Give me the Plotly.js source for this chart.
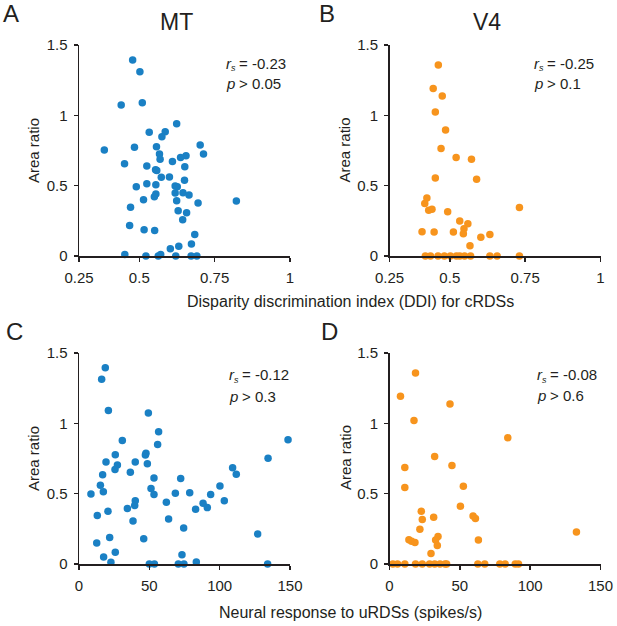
<!DOCTYPE html>
<html>
<head>
<meta charset="utf-8">
<script src="https://cdn.plot.ly/plotly-3.0.1.min.js"></script>
<style>html,body{margin:0;padding:0;background:#fff;}#chart{width:617px;height:626px;}</style>
</head>
<body>
<div id="chart"></div>
<script>
// ---- Data ----
// Panel A: MT, DDI vs area ratio
const mtDDI = [0.478,0.502,0.440,0.510,0.624,0.586,0.533,0.575,0.384,0.484,0.557,0.702,0.713,0.567,0.569,0.655,0.637,0.610,0.451,0.525,0.651,0.554,0.558,0.573,0.600,0.650,0.490,0.525,0.555,0.619,0.626,0.555,0.550,0.619,0.645,0.665,0.514,0.624,0.695,0.822,0.471,0.629,0.657,0.644,0.468,0.516,0.551,0.684,0.673,0.631,0.603,0.452,0.522,0.563,0.571,0.621,0.672,0.691];
const mtRatioA = [1.393,1.310,1.073,1.090,0.941,0.884,0.879,0.848,0.754,0.773,0.777,0.789,0.725,0.725,0.687,0.713,0.701,0.671,0.656,0.640,0.635,0.614,0.607,0.559,0.562,0.538,0.493,0.514,0.507,0.498,0.493,0.441,0.422,0.448,0.450,0.434,0.400,0.393,0.377,0.391,0.346,0.322,0.308,0.258,0.216,0.187,0.182,0.152,0.085,0.069,0.052,0.010,0,0,0.010,0,0,0];

// Panel B: V4, DDI vs area ratio
const v4DDI = [0.462,0.445,0.475,0.452,0.486,0.471,0.521,0.572,0.452,0.589,0.424,0.417,0.430,0.441,0.493,0.731,0.533,0.560,0.547,0.545,0.512,0.448,0.408,0.633,0.603,0.567,0.419,0.436,0.461,0.482,0.502,0.522,0.533,0.549,0.569,0.633,0.657,0.731];
const v4RatioB = [1.358,1.190,1.137,1.024,0.896,0.765,0.701,0.687,0.555,0.545,0.412,0.374,0.325,0.332,0.315,0.344,0.249,0.230,0.194,0.159,0.171,0.171,0.173,0.152,0.133,0.073,0,0,0,0,0,0,0,0,0,0,0,0];

// Panel C: MT, neural response vs area ratio
const mtResp = [18.7,16.1,20.9,49.3,56.6,30.8,55.9,25.8,47.2,47.6,19.2,40.0,48.6,27.3,25.6,16.8,36.5,53.3,72.3,109.2,111.8,134.4,148.6,15.2,51.2,100.2,8.5,17.3,53.3,68.5,78.7,93.6,40.0,39.6,62.1,103.3,88.2,91.2,82.9,13.0,20.6,34.4,38.4,63.7,74.4,127.0,21.8,46.0,12.6,17.5,25.8,73.2,22.7,83.4,50.0,53.6,70.6,74.6,134.1];
const mtRatioC = [1.396,1.313,1.092,1.073,0.940,0.878,0.850,0.776,0.774,0.788,0.726,0.726,0.712,0.703,0.672,0.634,0.653,0.612,0.608,0.684,0.638,0.752,0.883,0.560,0.536,0.555,0.498,0.513,0.494,0.503,0.506,0.494,0.449,0.415,0.439,0.449,0.432,0.401,0.389,0.344,0.375,0.394,0.306,0.320,0.256,0.214,0.188,0.180,0.150,0.050,0.083,0.066,0.012,0.014,0,0,0,0,0];

// Panel D: V4, neural response vs area ratio
const v4Resp = [18.5,7.8,43.0,17.4,84.1,32.1,10.9,44.4,10.9,52.5,50.4,22.6,23.3,31.4,59.4,61.1,21.6,34.5,32.8,34.0,13.8,15.7,18.1,63.2,132.9,29.5,2.4,5.7,10.9,18.5,23.3,28.5,32.1,35.9,39.5,40.6,62.8,67.7,78.4,82.2,89.4,91.7];
const v4RatioD = [1.358,1.192,1.137,1.021,0.897,0.764,0.686,0.700,0.544,0.553,0.411,0.375,0.316,0.332,0.342,0.323,0.247,0.195,0.171,0.131,0.173,0.161,0.152,0.171,0.228,0.074,0,0,0,0,0,0,0,0,0,0,0,0,0,0,0,0];

// Tick labels
const ddiTickVals = [0.3, 0.5, 0.75, 1];
const ddiTickText = ['0.25', '0.5', '0.75', '1'];
const respTickVals = [0, 50, 100, 150];
const respTickText = ['0', '50', '100', '150'];
const ratioTickVals = [0, 0.5, 1, 1.5];
const ratioTickText = ['0', '0.5', '1', '1.5'];

const panelTitles = ['MT', 'V4'];
const panelLetters = ['A', 'B', 'C', 'D'];
const statsR = ['-0.23', '-0.25', '-0.12', '-0.08'];
const statsP = ['0.05', '0.1', '0.3', '0.6'];

// ---- Styling ----
const BLUE = '#1a80c4';
const ORANGE = '#f7941d';
const INK = '#231f20';
const FONT = 'Liberation Sans, Arial, sans-serif';
const W = 617, H = 626;
const px = v => v / W;
const py = v => 1 - v / H;

function scatter(x, y, color, xa, ya) {
  return {x: x, y: y, xaxis: xa, yaxis: ya, type: 'scatter', mode: 'markers',
    marker: {size: 7.5, color: color, line: {width: 0}}, cliponaxis: false,
    hoverinfo: 'x+y', showlegend: false};
}

function axis(domain, range, vals, text) {
  return {domain: domain, range: range, tickmode: 'array', tickvals: vals, ticktext: text,
    showline: true, linecolor: INK, linewidth: 1.5, ticks: 'outside', ticklen: 4,
    tickwidth: 1.5, tickcolor: INK, showgrid: false, zeroline: false,
    ticklabelstandoff: 3,
    tickfont: {family: FONT, size: 15, color: INK}, fixedrange: true};
}

const xL = [px(79), px(290)];
const xR = [px(389.5), px(600.5)];
const yT = [py(256), py(45)];
const yB = [py(564), py(353)];

const data = [
  scatter(mtDDI, mtRatioA, BLUE, 'x', 'y'),
  scatter(v4DDI, v4RatioB, ORANGE, 'x2', 'y2'),
  scatter(mtResp, mtRatioC, BLUE, 'x3', 'y3'),
  scatter(v4Resp, v4RatioD, ORANGE, 'x4', 'y4')
];

const layout = {
  width: W, height: H, margin: {l: 0, r: 0, t: 0, b: 0},
  paper_bgcolor: '#fff', plot_bgcolor: '#fff',
  font: {family: FONT, color: INK},
  xaxis: Object.assign(axis(xL, [0.3, 1], ddiTickVals, ddiTickText), {anchor: 'y'}),
  yaxis: Object.assign(axis(yT, [0, 1.5], ratioTickVals, ratioTickText), {anchor: 'x'}),
  xaxis2: Object.assign(axis(xR, [0.3, 1], ddiTickVals, ddiTickText), {anchor: 'y2'}),
  yaxis2: Object.assign(axis(yT, [0, 1.5], ratioTickVals, ratioTickText), {anchor: 'x2'}),
  xaxis3: Object.assign(axis(xL, [0, 150], respTickVals, respTickText), {anchor: 'y3'}),
  yaxis3: Object.assign(axis(yB, [0, 1.5], ratioTickVals, ratioTickText), {anchor: 'x3'}),
  xaxis4: Object.assign(axis(xR, [0, 150], respTickVals, respTickText), {anchor: 'y4'}),
  yaxis4: Object.assign(axis(yB, [0, 1.5], ratioTickVals, ratioTickText), {anchor: 'x4'}),
  annotations: []
};

function ann(text, x, y, size, opts, fontStyle) {
  return Object.assign({text: text, xref: 'paper', yref: 'paper', x: px(x), y: py(y),
    showarrow: false, xanchor: 'center', yanchor: 'middle', borderpad: 0,
    font: {family: FONT, size: size, color: INK, style: fontStyle || 'normal'}}, opts || {});
}

const A = layout.annotations;
// panel letters
const letterPos = [[2, 13.5], [318, 13.5], [5, 331.5], [320, 331.5]];
panelLetters.forEach((l, i) => A.push(ann(l, letterPos[i][0], letterPos[i][1], 24, {xanchor: 'left'})));
// column titles
A.push(ann(panelTitles[0], 176, 21.5, 23));
A.push(ann(panelTitles[1], 487, 21.5, 23));
// y-axis titles
const yTitlePos = [[33.5, 150.5], [344, 150.5], [33.5, 458.5], [345, 458]];
yTitlePos.forEach(p => A.push(ann('Area ratio', p[0], p[1], 15, {textangle: -90})));
// x-axis titles
A.push(ann('Disparity discrimination index (DDI) for cRDSs', 350, 301, 16));
A.push(ann('Neural response to uRDSs (spikes/s)', 350, 612, 16));
// stats: italic r with subscript s, italic p
const statPos = [[225, 63, 83], [533, 63, 84], [228, 374.5, 396], [535.5, 374, 395]];
statPos.forEach((p, i) => {
  const L = {xanchor: 'left'};
  A.push(ann('r', p[0], p[1], 15, L, 'italic'));
  A.push(ann('s', p[0] + 5, p[1] + 5.5, 9, L, 'italic'));
  A.push(ann('= ' + statsR[i], p[0] + 13, p[1], 15, L));
  A.push(ann('p', p[0], p[2], 15, L, 'italic'));
  A.push(ann('&gt; ' + statsP[i], p[0] + 13, p[2], 15, L));
});

Plotly.newPlot('chart', data, layout, {displayModeBar: false, staticPlot: true});
</script>
</body>
</html>
